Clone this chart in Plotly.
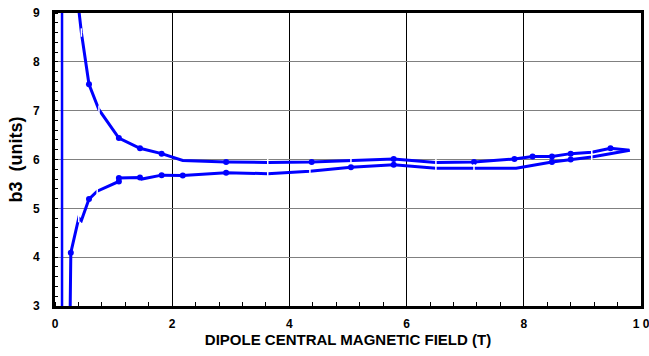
import plotly.graph_objects as go

# Upper branch (decreasing with field)
up_x = [0.405, 0.45, 0.58, 0.75, 1.09, 1.45, 1.82, 2.18, 2.92, 3.63, 4.38, 5.05, 5.78,
        6.50, 7.15, 7.84, 8.15, 8.48, 8.80, 9.16, 9.48, 9.81]
up_y = [9.08, 8.60, 7.54, 7.02, 6.44, 6.23, 6.12, 5.98, 5.95, 5.94, 5.95, 5.98, 6.01,
        5.94, 5.95, 6.01, 6.06, 6.06, 6.12, 6.15, 6.23, 6.19]
up_dot_idx = [0, 2, 4, 5, 6, 8, 10, 12, 14, 15, 16, 17, 18, 20]
up_tick_idx = [1, 3, 9, 11, 13, 19, 21]

# Lower branch (increasing with field)
lo_x = [0.25, 0.27, 0.405, 0.45, 0.58, 0.72, 1.09, 1.09, 1.45, 1.48, 1.82, 2.18, 2.92,
        3.63, 4.35, 5.05, 5.78, 6.50, 7.15, 7.87, 8.48, 8.80, 9.16, 9.81]
lo_y = [2.00, 4.09, 4.80, 4.75, 5.19, 5.35, 5.55, 5.62, 5.63, 5.60, 5.68, 5.67, 5.73,
        5.71, 5.76, 5.84, 5.89, 5.82, 5.82, 5.82, 5.95, 6.00, 6.05, 6.19]
lo_dot_idx = [1, 4, 6, 7, 8, 10, 11, 12, 15, 16, 20, 21]
lo_tick_idx = [2, 5, 13, 14, 17, 18, 22]

# Vertical trace near zero field
v_x = [0.12, 0.12]
v_y = [2.0, 10.0]

x_ticks = [0, 2, 4, 6, 8, 10]
x_ticktext = ["0", "2", "4", "6", "8", "1 0"]
y_ticks = [3, 4, 5, 6, 7, 8, 9]

BLUE = "#0000FF"
fig = go.Figure()

fig.add_trace(go.Scatter(x=v_x, y=v_y, mode="lines", line=dict(color=BLUE, width=2.5)))

for xs, ys, dots, ticks in [(up_x, up_y, up_dot_idx, up_tick_idx),
                            (lo_x, lo_y, lo_dot_idx, lo_tick_idx)]:
    fig.add_trace(go.Scatter(x=xs, y=ys, mode="lines", line=dict(color=BLUE, width=3)))
    fig.add_trace(go.Scatter(x=[xs[i] for i in dots], y=[ys[i] for i in dots],
                             mode="markers", cliponaxis=False,
                             marker=dict(color=BLUE, size=6, symbol="circle")))
    fig.add_trace(go.Scatter(x=[xs[i] for i in ticks], y=[ys[i] for i in ticks],
                             mode="markers", cliponaxis=False,
                             marker=dict(color="white", size=6, symbol="line-ns",
                                         line=dict(color="white", width=1.5))))

fig.update_layout(
    width=649, height=356,
    margin=dict(l=55, r=8, t=13, b=50),
    paper_bgcolor="white", plot_bgcolor="white",
    showlegend=False,
    font=dict(family="Liberation Sans, Arial, sans-serif", color="black"),
)
fig.update_xaxes(
    range=[0, 10], tickvals=x_ticks, ticktext=x_ticktext,
    tickfont=dict(size=12, weight="bold"), ticklabeloverflow="allow",
    showgrid=True, gridcolor="black", gridwidth=1,
    showline=True, linecolor="black", linewidth=3, mirror=True,
    ticks="", ticklabelstandoff=5, zeroline=False,
    minor=dict(dtick=0.4, ticks="inside", ticklen=4, tickcolor="black", showgrid=False),
    automargin=False,
    title=dict(text="DIPOLE CENTRAL MAGNETIC FIELD (T)", font=dict(size=15, weight="bold"),
               standoff=5),
)
fig.update_yaxes(
    range=[3, 9], tickvals=y_ticks,
    tickfont=dict(size=12, weight="bold"), ticklabeloverflow="allow",
    showgrid=True, gridcolor="#808080", gridwidth=1,
    showline=True, linecolor="black", linewidth=3, mirror=True,
    ticks="", ticklabelstandoff=10, zeroline=False,
    minor=dict(dtick=0.2, ticks="inside", ticklen=3, tickcolor="black", showgrid=False),
    automargin=False,
    title=dict(text="b3  (units)", font=dict(size=18, weight="bold"), standoff=6),
)

fig.write_html("out.html", config={"displayModeBar": False},
               post_script="document.body.style.margin='0';")
